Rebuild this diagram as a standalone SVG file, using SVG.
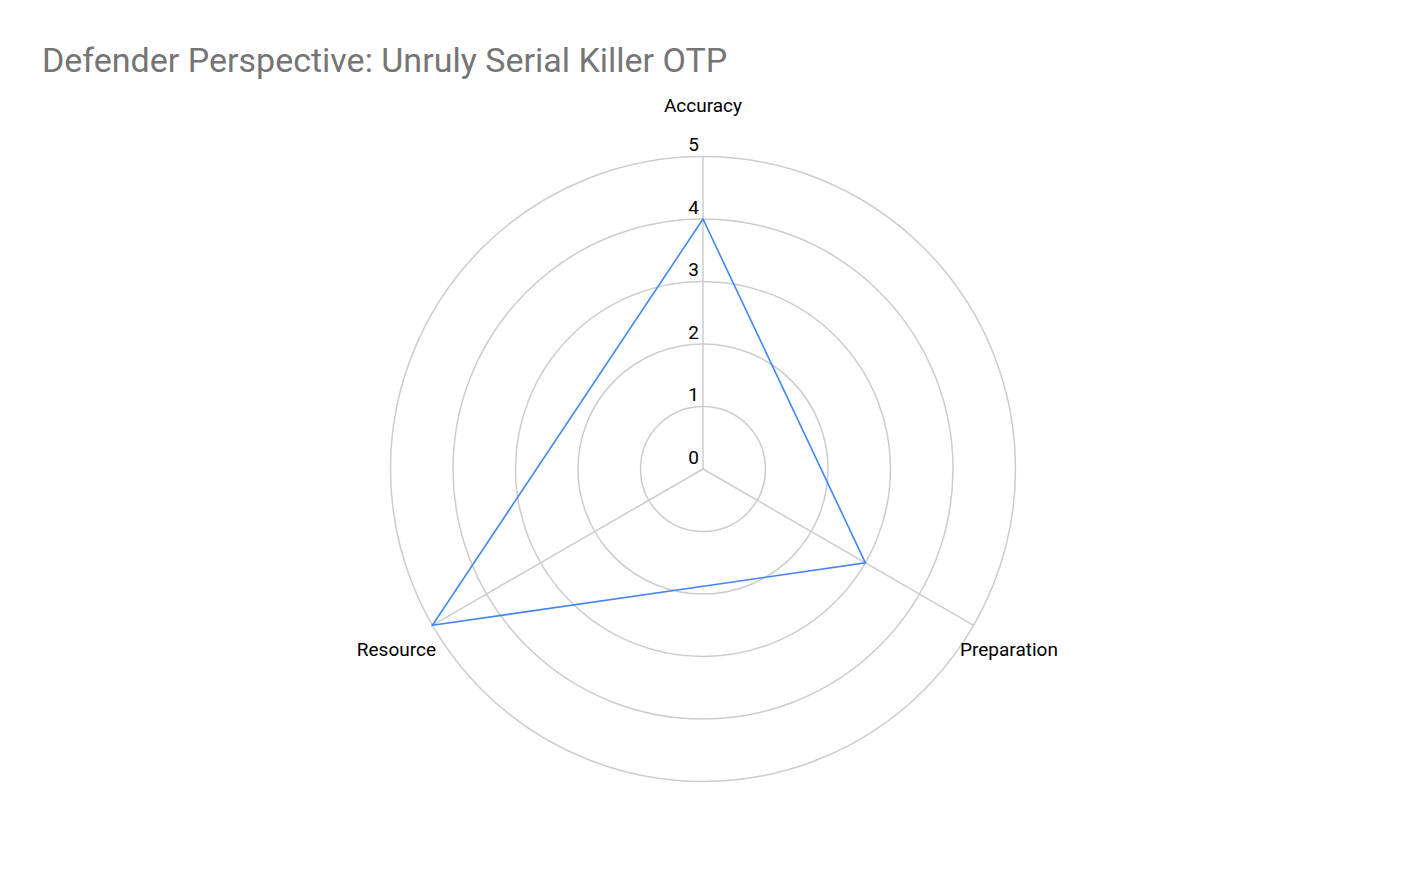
<svg xmlns="http://www.w3.org/2000/svg" width="1406" height="870" viewBox="0 0 1406 870">
<style>
.grid{fill:none;stroke:#cccccc;stroke-width:1.5}
.lbl{font-family:Roboto,"Liberation Sans",sans-serif;font-size:19px;fill:#000}
.tick{font-family:Roboto,"Liberation Sans",sans-serif;font-size:19px;fill:#000;text-anchor:end}
</style>
<rect width="1406" height="870" fill="#fff"/>
<text x="42" y="72" font-family="Roboto,'Liberation Sans',sans-serif" font-size="34" fill="#757575">Defender Perspective: Unruly Serial Killer OTP</text>
<g id="grid">
<circle class="grid" cx="703" cy="469" r="62.5"/>
<circle class="grid" cx="703" cy="469" r="125"/>
<circle class="grid" cx="703" cy="469" r="187.5"/>
<circle class="grid" cx="703" cy="469" r="250"/>
<circle class="grid" cx="703" cy="469" r="312.5"/>
<line class="grid" x1="703" y1="469" x2="703" y2="156.5"/>
<line class="grid" x1="703" y1="469" x2="973.6" y2="625.3"/>
<line class="grid" x1="703" y1="469" x2="432.4" y2="625.3"/>
</g>
<g id="ticks">
<text class="tick" x="699" y="464">0</text>
<text class="tick" x="699" y="401">1</text>
<text class="tick" x="699" y="339">2</text>
<text class="tick" x="699" y="276">3</text>
<text class="tick" x="699" y="214">4</text>
<text class="tick" x="699" y="151">5</text>
</g>
<g id="labels">
<text class="lbl" x="703" y="112" text-anchor="middle">Accuracy</text>
<text class="lbl" x="960" y="656">Preparation</text>
<text class="lbl" x="436" y="656" text-anchor="end">Resource</text>
</g>
<g id="series">
<polygon points="703,219 865.4,562.8 432.4,625.3" fill="none" stroke="#4285f4" stroke-width="1.6"/>
</g>
</svg>
